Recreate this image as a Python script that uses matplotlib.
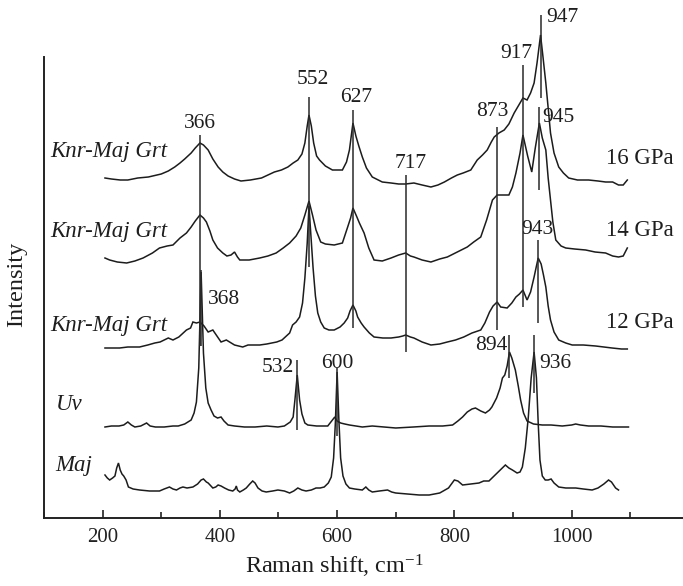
import matplotlib
matplotlib.use("Agg")
import matplotlib.pyplot as plt
from matplotlib.ticker import MultipleLocator

plt.rcParams["font.family"] = ["Liberation Serif", "DejaVu Serif"]
plt.rcParams["mathtext.fontset"] = "custom"
plt.rcParams["mathtext.rm"] = "Liberation Serif"
plt.rcParams["mathtext.it"] = "Liberation Serif:italic"

# Stacked Raman spectra (Raman shift in cm-1, offset intensity in arbitrary units)
shift_16 = [204, 215, 230, 243, 260, 278, 300, 312, 323, 332, 340, 351, 358, 366, 372, 380, 388, 397,
            405, 414, 425, 436, 452, 471, 482, 493, 505, 516, 525, 533, 540, 545, 549, 552, 556, 560,
            565, 570, 580, 592, 600, 609, 616, 621, 627, 632, 637, 643, 650, 660, 677, 692, 705, 717,
            731, 745, 760, 772, 783, 795, 805, 815, 828, 839, 848, 856, 863, 868, 876, 885, 893, 902,
            910, 917, 924, 930, 936, 941, 947, 951, 956, 960, 964, 970, 978, 986, 995, 1010, 1029,
            1045, 1058, 1070, 1080, 1088, 1095]
int_16 = [340, 339, 338, 338, 340, 341, 344, 347, 351, 355, 359, 365, 370, 375, 373, 368, 359, 351,
          346, 342, 339, 337, 338, 340, 343, 346, 348, 351, 355, 358, 364, 375, 392, 403, 392, 375,
          362, 358, 352, 348, 348, 348, 356, 368, 395, 382, 372, 361, 350, 341, 336, 335, 334, 334,
          335, 333, 331, 333, 336, 340, 343, 345, 348, 358, 363, 368, 376, 381, 385, 388, 394, 405,
          413, 420, 418, 425, 435, 455, 483, 462, 435, 410, 385, 365, 351, 345, 340, 338, 338,
          337, 336, 336, 333, 333, 338]

shift_14 = [204, 212, 225, 241, 255, 269, 285, 297, 310, 320, 332, 343, 351, 358, 366, 372, 377, 383,
            388, 396, 405, 412, 419, 425, 430, 434, 450, 468, 482, 496, 508, 519, 530, 538, 545, 552,
            558, 564, 572, 580, 595, 609, 618, 623, 627, 633, 638, 646, 654, 663, 677, 692, 705, 717,
            725, 731, 745, 760, 775, 788, 805, 822, 833, 845, 855, 865, 873, 885, 893, 899, 905, 912,
            917, 925, 932, 938, 945, 950, 956, 960, 964, 968, 973, 982, 990, 1005, 1024, 1040, 1058,
            1070, 1080, 1088, 1095]
int_14 = [260, 258, 256, 255, 257, 260, 265, 270, 272, 273, 280, 285, 291, 297, 303, 300, 296, 287,
          278, 270, 265, 262, 263, 266, 261, 258, 258, 260, 262, 265, 270, 275, 282, 290, 303, 317,
          303, 288, 276, 274, 273, 275, 291, 300, 310, 302, 295, 285, 270, 258, 257, 260, 263, 265,
          262, 261, 258, 256, 259, 261, 266, 271, 276, 281, 298, 318, 323, 323, 323, 331, 345, 365,
          383, 362, 346, 370, 395, 380, 368, 340, 318, 296, 278, 272, 270, 269, 268, 266, 265,
          262, 261, 262, 270]

shift_12 = [204, 215, 229, 243, 263, 277, 289, 298, 305, 312, 320, 330, 343, 350, 354, 360, 366, 373,
            380, 388, 395, 402, 411, 425, 439, 448, 468, 480, 497, 506, 519, 524, 530, 536, 541, 545,
            549, 552, 555, 559, 563, 567, 572, 578, 586, 595, 605, 612, 618, 622, 627, 632, 635, 641,
            646, 655, 663, 678, 692, 705, 712, 717, 725, 731, 745, 760, 775, 788, 802, 816, 830, 845,
            852, 860, 866, 873, 879, 890, 898, 905, 911, 917, 924, 930, 936, 940, 943, 948, 952, 956,
            960, 964, 970, 978, 990, 1001, 1020, 1041, 1055, 1069, 1085, 1095]
int_12 = [170, 170, 170, 171, 171, 173, 175, 176, 178, 180, 178, 181, 188, 190, 196, 195, 196, 192,
          186, 188, 182, 176, 178, 173, 171, 173, 173, 174, 176, 178, 185, 193, 196, 201, 215, 240,
          275, 312, 285, 250, 222, 205, 196, 190, 188, 188, 191, 195, 200, 207, 213, 207, 201, 195,
          191, 185, 181, 180, 180, 181, 182, 183, 181, 180, 176, 173, 174, 176, 178, 181, 185, 188,
          195, 206, 212, 216, 211, 210, 215, 221, 224, 228, 218, 226, 241, 252, 260, 254, 243, 231,
          212, 198, 186, 178, 175, 173, 173, 172, 171, 170, 169, 169]

shift_uv = [204, 215, 228, 236, 243, 249, 255, 265, 275, 281, 290, 305, 320, 329, 340, 351, 356, 360,
            364, 368, 372, 376, 380, 385, 390, 396, 402, 407, 414, 425, 442, 460, 480, 499, 510, 520,
            525, 528, 532, 536, 540, 545, 550, 565, 584, 592, 596, 600, 606, 613, 621, 643, 660, 680,
            700, 730, 757, 780, 797, 806, 814, 822, 830, 836, 845, 853, 860, 864, 872, 878, 882, 886,
            890, 894, 898, 904, 909, 913, 918, 924, 935, 950, 965, 984, 1000, 1007, 1015, 1029, 1050,
            1070, 1085, 1097]
int_uv = [91, 92, 92, 93, 96, 93, 91, 92, 95, 92, 91, 91, 92, 92, 94, 98, 105, 116,
          150, 246, 165, 130, 115, 108, 102, 100, 101, 97, 93, 92, 91, 91, 92, 91, 92, 96,
          101, 118, 143, 118, 104, 95, 93, 92, 92, 98, 101, 97, 95, 94, 93, 91, 92, 91,
          90, 91, 92, 92, 93, 97, 101, 106, 109, 110, 107, 105, 108, 111, 120, 130, 140, 143,
          152, 166, 160, 148, 132, 118, 105, 97, 94, 93, 93, 92, 93, 94, 93, 92, 92,
          91, 91, 91]

shift_maj = [204, 208, 212, 217, 221, 224, 227, 230, 233, 236, 240, 244, 252, 263, 280, 297, 305, 314,
             320, 326, 332, 337, 344, 354, 362, 368, 372, 377, 380, 388, 393, 397, 402, 408, 415, 422,
             426, 428, 430, 434, 440, 445, 451, 456, 460, 465, 472, 479, 490, 499, 510, 519, 526, 533,
             540, 547, 556, 564, 571, 578, 585, 590, 594, 597, 600, 603, 606, 610, 615, 621, 630, 643,
             649, 654, 660, 672, 686, 693, 700, 720, 740, 757, 775, 790, 800, 806, 814, 828, 842, 850,
             859, 866, 873, 880, 887, 893, 899, 907, 912, 916, 921, 926, 931, 936, 940, 943, 946, 950,
             955, 960, 965, 970, 978, 990, 1007, 1020, 1035, 1045, 1055, 1063, 1068, 1075, 1080]
int_maj = [43, 40, 38, 40, 42, 50, 55, 48, 44, 42, 38, 31, 29, 28, 27, 27, 29, 31,
           29, 28, 30, 31, 30, 31, 34, 38, 39, 36, 35, 30, 31, 33, 32, 30, 28, 27,
           29, 32, 28, 26, 28, 30, 34, 37, 35, 30, 27, 26, 27, 28, 27, 25, 27, 30,
           28, 27, 28, 30, 30, 31, 35, 41, 60, 95, 146, 98, 60, 42, 34, 30, 29, 28,
           31, 28, 26, 27, 28, 26, 25, 24, 23, 23, 25, 30, 38, 37, 33, 34, 35, 37,
           37, 41, 45, 49, 53, 50, 48, 45, 46, 51, 70, 100, 140, 166, 140, 95, 58, 42,
           38, 38, 39, 35, 31, 30, 30, 29, 28, 30, 34, 38, 36, 30, 28]

# Peak assignments: position (cm-1) with the span of its marker line
peak_pos = [366, 368, 552, 627, 717, 873, 917, 947, 945, 943, 532, 600, 894, 936]
peak_lo = [172, 172, 251, 190, 166, 188, 211, 420, 328, 195, 88, 82, 140, 125]
peak_hi = [383, 248, 421, 408, 343, 391, 453, 503, 411, 278, 158, 150, 183, 183]

phase_names = ["Knr-Maj Grt", "Knr-Maj Grt", "Knr-Maj Grt", "Uv", "Maj"]
pressures = ["16 GPa", "14 GPa", "12 GPa"]

# label placement (x, y, horizontal alignment) for each peak value
peak_label_pos = {
    366: (366, 395, "center"), 552: (559, 438, "center"), 627: (632, 420, "center"),
    717: (726, 355, "center"), 873: (865, 406, "center"), 917: (906, 465, "center"),
    947: (957, 501, "left"), 945: (950, 401, "left"), 943: (941, 288, "center"),
    368: (380, 218, "left"), 532: (527, 150, "right"), 600: (600, 154, "center"),
    894: (890, 173, "right"), 936: (944, 155, "left"),
}
name_y = [366, 286, 193, 113, 53]
pressure_y = [360, 288, 196]

W, H = 683, 586
fig = plt.figure(figsize=(W / 100, H / 100), dpi=100)
ax = fig.add_axes([44 / W, 68 / H, 1 - 44 / W, 518 / H])
ax.set_xlim(100, 1190)
ax.set_ylim(0, 518)

line_kw = dict(color="#1c1c1c", lw=1.1, solid_joinstyle="miter")
for xs, ys in [(shift_16, int_16), (shift_14, int_14), (shift_12, int_12),
               (shift_uv, int_uv), (shift_maj, int_maj)]:
    ax.plot(xs, ys, **line_kw)

ax.vlines(peak_pos, peak_lo, peak_hi, color="#2a2a2a", lw=1.1)

txt = "#1e1e1e"
for p in peak_pos:
    x, y, ha = peak_label_pos[p]
    ax.text(x, y, str(p), ha=ha, va="center", fontsize=15.5, color=txt)

for name, y in zip(phase_names, name_y):
    ax.text(110 if name.startswith("K") else 120, y, name, ha="left", va="center",
            fontsize=16.5, style="italic", color=txt)

for lab, y in zip(pressures, pressure_y):
    ax.text(1058, y, lab, ha="left", va="center", fontsize=16.5, color=txt)

for s in ["top", "right"]:
    ax.spines[s].set_visible(False)
ax.spines["left"].set_bounds(0, 461)
for s in ["left", "bottom"]:
    ax.spines[s].set_linewidth(1.4)
    ax.spines[s].set_color("#222222")

ax.set_yticks([])
ax.set_xticks([200, 400, 600, 800, 1000])
ax.xaxis.set_minor_locator(MultipleLocator(100))
ax.tick_params(axis="x", which="major", direction="in", length=6, width=1.2,
               labelsize=15, pad=7, colors="#222222")
ax.tick_params(axis="x", which="minor", direction="in", length=4, width=1.2, colors="#222222")

fig.text(0.489, 0.033, r"Raman shift, cm$^{\mathrm{-1}}$", ha="center", va="center",
         fontsize=17.5, color=txt)
fig.text(0.024, 0.514, "Intensity", ha="center", va="center", rotation=90,
         fontsize=17.5, color=txt)

fig.savefig("out.png", dpi=100, facecolor="white")
